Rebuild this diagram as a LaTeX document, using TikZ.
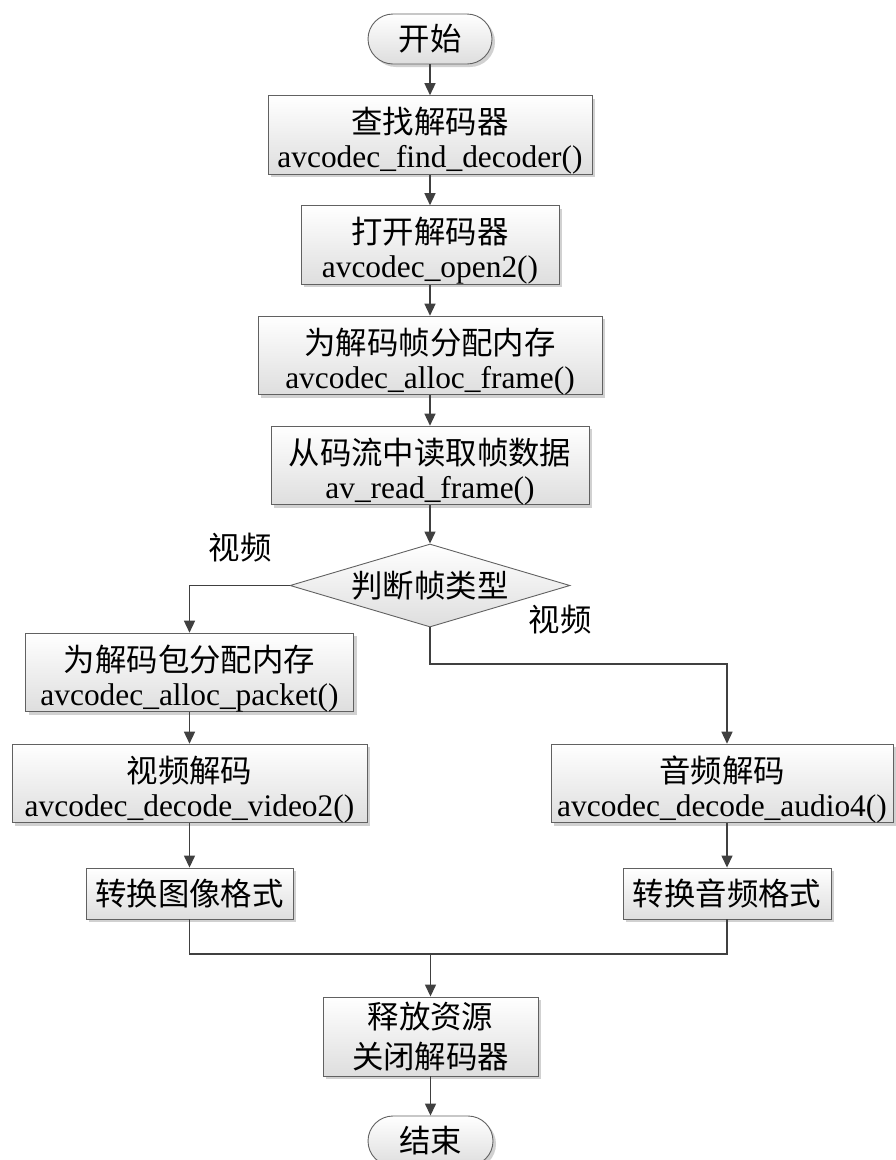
\documentclass[tikz,border=0pt]{standalone}
\usepackage{fontspec}
\setmainfont{Liberation Serif}
\newfontfamily\cjk{Noto Sans CJK SC}
\newcommand\tstrut{\rule{0pt}{38pt}}
\usetikzlibrary{shapes.geometric,arrows.meta,shadows,calc}
\begin{document}
\begin{tikzpicture}[x=1pt,y=-1pt,
 box/.style={draw=black!62, line width=0.9pt, top color=white, bottom color=black!13,
   align=center, inner sep=0pt, font=\fontsize{31.4}{34}\selectfont,
   drop shadow={shadow xshift=3pt,shadow yshift=-3pt,fill=black!30,opacity=0.6}},
 term/.style={box, rounded corners=25pt, minimum width=124pt, minimum height=50pt},
 arr/.style={draw=black!75, line width=1.4pt, -{Triangle[length=12pt,width=11pt]}},
 ln/.style={draw=black!75, line width=1.4pt},
 lbl/.style={font=\fontsize{31.4}{34}\selectfont\cjk, inner sep=0pt}]
\useasboundingbox (0,0) rectangle (895,1160);
\node[term] (start) at (430,39) {\cjk 开始};
\node[box, minimum width=324pt, minimum height=76pt] (b1) at (430,135) {{\cjk\tstrut 查找解码器}\\avcodec\_find\_decoder()};
\node[box, minimum width=258pt, minimum height=76pt] (b2) at (430,245) {{\cjk\tstrut 打开解码器}\\avcodec\_open2()};
\node[box, minimum width=344pt, minimum height=77pt] (b3) at (430,355.5) {{\cjk\tstrut 为解码帧分配内存}\\avcodec\_alloc\_frame()};
\node[box, minimum width=318pt, minimum height=77pt] (b4) at (430,465.5) {{\cjk\tstrut 从码流中读取帧数据}\\av\_read\_frame()};
\node[diamond, draw=black!62, line width=0.9pt, top color=white, bottom color=black!13,
  aspect=3.37, inner sep=0pt, minimum width=280pt, minimum height=83pt,
  font=\fontsize{31.4}{34}\selectfont\cjk] (d) at (430,585.5) {判断帧类型};
\node[box, minimum width=328pt, minimum height=77pt] (b5) at (189.5,672.5) {{\cjk\tstrut 为解码包分配内存}\\avcodec\_alloc\_packet()};
\node[box, minimum width=355pt, minimum height=77pt] (b6) at (189.5,783.5) {{\cjk\tstrut 视频解码}\\avcodec\_decode\_video2()};
\node[box, minimum width=342pt, minimum height=77pt] (b7) at (722,783.5) {{\cjk\tstrut 音频解码}\\avcodec\_decode\_audio4()};
\node[box, minimum width=207pt, minimum height=51pt] (b8) at (189.5,893.5) {\cjk 转换图像格式};
\node[box, minimum width=208pt, minimum height=51pt] (b9) at (727,893.5) {\cjk 转换音频格式};
\node[box, minimum width=215pt, minimum height=79pt, font=\fontsize{31.4}{40}\selectfont] (b10) at (430.5,1036.5) {{\cjk 释放资源}\\{\cjk 关闭解码器}};
\node[term, minimum width=125pt] (end) at (430.5,1141) {\cjk 结束};
\node[lbl] (lv) at (240,548) {视频};
\node[lbl] (rv) at (560,620) {视频};
\coordinate (r) at (727,664);
\coordinate (m) at (430.5,954);
\draw[arr] (start) -- (b1);
\draw[arr] (b1) -- (b2);
\draw[arr] (b2) -- (b3);
\draw[arr] (b3) -- (b4);
\draw[arr] (b4) -- (d);
\draw[arr] (d.west) -| (b5.north);
\draw[arr] (b5) -- (b6);
\draw[arr] (d.south) |- (r) -- (r |- b7.north);
\draw[arr] (b6) -- (b8);
\draw[arr] (b9.north |- b7.south) -- (b9.north);
\draw[ln] (b8.south) |- (m);
\draw[ln] (b9.south) |- (m);
\draw[arr] (m) -- (b10.north);
\draw[arr] (b10) -- (end);
\end{tikzpicture}
\end{document}
